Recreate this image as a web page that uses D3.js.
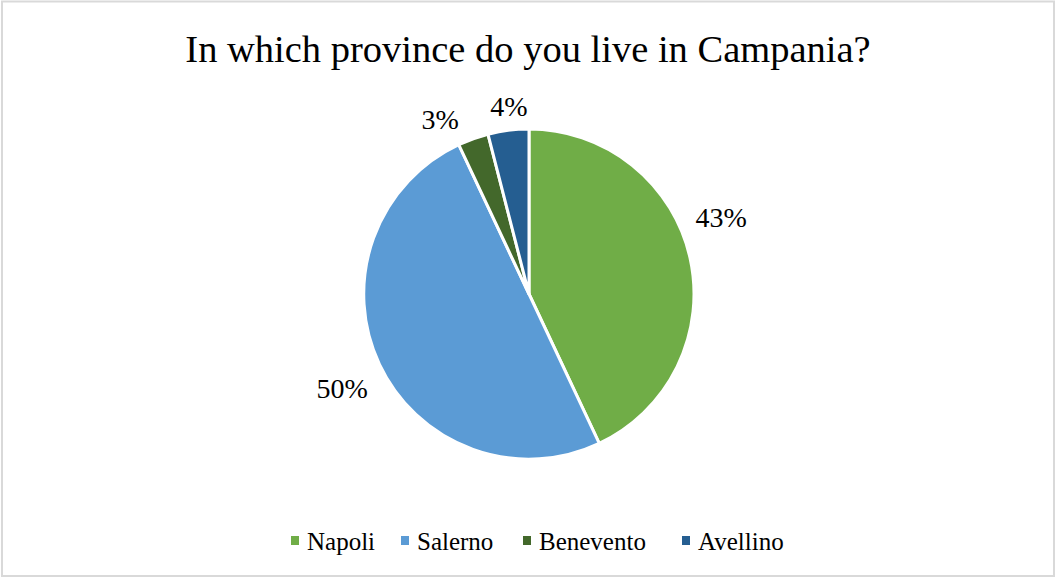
<!DOCTYPE html>
<html>
<head>
<meta charset="utf-8">
<script src="https://cdn.jsdelivr.net/npm/d3@7"></script>
<style>
  html, body { margin: 0; padding: 0; background: #fff; }
  svg { display: block; }
</style>
</head>
<body>
<svg id="chart" width="1056" height="577"></svg>
<script>
// Survey answers: province of residence in Campania (percent)
const provinces = ["Napoli", "Salerno", "Benevento", "Avellino"];
const shares = [43, 50, 3, 4];
const sliceColors = ["#70AD47", "#5B9BD5", "#43682B", "#255E91"];
const titleText = "In which province do you live in Campania?";

const W = 1056, H = 577;
const svg = d3.select("#chart");
const font = "'Liberation Serif', 'DejaVu Serif', serif";

// chart frame
svg.append("rect")
  .attr("x", 2).attr("y", 1.5)
  .attr("width", W - 4).attr("height", H - 2.5)
  .attr("fill", "#fff")
  .attr("stroke", "#d9d9d9").attr("stroke-width", 2);

// title
svg.append("text")
  .attr("x", 528).attr("y", 62)
  .attr("text-anchor", "middle")
  .attr("font-family", font)
  .attr("font-size", 38.5)
  .attr("fill", "#000")
  .text(titleText);

const data = provinces.map((p, i) => ({ name: p, value: shares[i], color: sliceColors[i] }));

const cx = 529, cy = 294, r = 165;
const pie = d3.pie().value(d => d.value).sort(null);
const arcs = pie(data);
const arc = d3.arc().innerRadius(0).outerRadius(r);

const g = svg.append("g").attr("transform", `translate(${cx},${cy})`);
g.selectAll("path")
  .data(arcs)
  .join("path")
  .attr("d", arc)
  .attr("fill", d => d.data.color)
  .attr("stroke", "#fff")
  .attr("stroke-width", 3)
  .attr("stroke-linejoin", "round");

// data labels placed outside each slice, nudged to avoid crowding
const labelArc = d3.arc().innerRadius(200).outerRadius(200);
const labelOffsets = {
  Napoli: [-3, -33],
  Salerno: [-6, 9],
  Benevento: [-21, 14],
  Avellino: [5, 11]
};
g.selectAll("text.lbl")
  .data(arcs)
  .join("text")
  .attr("class", "lbl")
  .attr("transform", d => {
    const [x, y] = labelArc.centroid(d);
    const o = labelOffsets[d.data.name];
    return `translate(${x + o[0]},${y + o[1]})`;
  })
  .attr("text-anchor", "middle")
  .attr("dominant-baseline", "central")
  .attr("font-family", font)
  .attr("font-size", 28)
  .attr("fill", "#000")
  .text(d => d3.format(".0f")(d.data.value) + "%");

// legend
const legendX = [291, 401, 523, 682];
const legend = svg.append("g");
data.forEach((d, i) => {
  const item = legend.append("g").attr("transform", `translate(${legendX[i]},536)`);
  item.append("rect").attr("x", 0).attr("y", 0).attr("width", 8).attr("height", 9).attr("fill", d.color);
  item.append("text")
    .attr("x", 16).attr("y", 13.5)
    .attr("font-family", font)
    .attr("font-size", 25)
    .attr("fill", "#000")
    .text(d.name);
});
</script>
</body>
</html>
